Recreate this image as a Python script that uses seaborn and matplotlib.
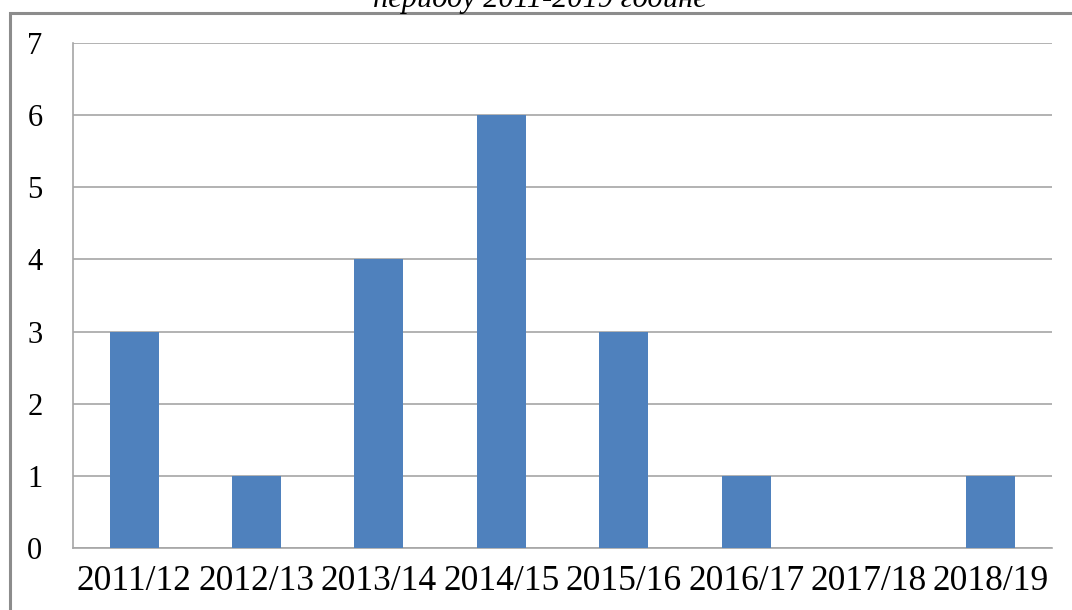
import numpy as np
import seaborn as sns
import matplotlib.pyplot as plt
from matplotlib.patches import Rectangle

seasons = ['2011/12', '2012/13', '2013/14', '2014/15', '2015/16', '2016/17', '2017/18', '2018/19']
counts = [3, 1, 4, 6, 3, 1, 0, 1]
y_ticks = [0, 1, 2, 3, 4, 5, 6, 7]

sns.set_style('white')
plt.rcParams['font.family'] = ['Liberation Serif', 'DejaVu Serif']
plt.rcParams['text.color'] = 'black'
plt.rcParams['xtick.color'] = 'black'
plt.rcParams['ytick.color'] = 'black'

W, H = 1072, 610
fig = plt.figure(figsize=(W / 100, H / 100), dpi=100)
ax = fig.add_axes([73 / W, 1 - 548 / H, (1052 - 73) / W, (548 - 43) / H])

grid_col = '#a6a6a6'
sns.barplot(x=seasons, y=counts, color='#4f81bd', width=0.4, saturation=1, ax=ax,
            edgecolor='none', linewidth=0, zorder=3)

ax.set_xlim(-0.5, len(seasons) - 0.5)
ax.set_ylim(0, 7)
ax.set_yticks(y_ticks)
ax.set_yticklabels([str(v) for v in y_ticks], fontsize=22)
ax.yaxis.grid(True, color=grid_col, lw=1.2, zorder=0)
ax.set_axisbelow(True)

# boundary ticks below the axis, labels centred under the bars
ax.set_xticks(np.arange(-0.5, len(seasons), 1))
ax.set_xticklabels([])
ax.set_xticks(np.arange(len(seasons)), minor=True)
ax.set_xticklabels(seasons, minor=True, fontsize=25.5)
ax.tick_params(axis='x', which='major', length=9, width=1.2, color=grid_col, direction='out')
ax.tick_params(axis='x', which='minor', length=0, pad=12)
ax.tick_params(axis='y', length=10, width=1.2, color=grid_col, labelcolor='black',
               direction='out', pad=12)

ax.set_xlabel('')
ax.set_ylabel('')
for side in ['top', 'right']:
    ax.spines[side].set_visible(False)
for side in ['left', 'bottom']:
    ax.spines[side].set_color(grid_col)
    ax.spines[side].set_linewidth(1.2)

# chart frame, cut at the right and bottom edges
fig.add_artist(Rectangle((10 / W, -0.05), 1.1, 1.05 - 13 / H, transform=fig.transFigure,
                         fill=False, edgecolor='#8c8c8c', lw=2.2))

# title, only its lower half shows at the top edge (as in the source)
fig.text(540 / W, 1 - 7 / H, 'периоду 2011-2019 године', ha='center', va='baseline',
         fontsize=22, style='italic', color='black')

fig.savefig('out.png', dpi=100)
